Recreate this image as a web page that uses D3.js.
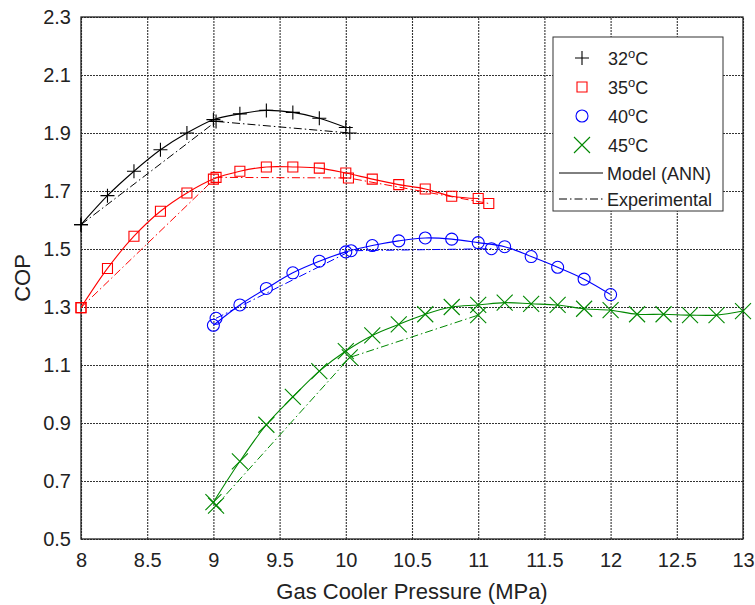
<!DOCTYPE html>
<html>
<head>
<meta charset="utf-8">
<script src="https://cdn.jsdelivr.net/npm/d3@7"></script>
<style>
  body { margin: 0; background: #fff; }
  text { font-family: "Liberation Sans", Arial, sans-serif; fill: #222; }
</style>
</head>
<body>
<div id="chart"></div>
<script>
const width = 755;
const height = 605;
const margin = { top: 17, right: 12, bottom: 66, left: 81 };

// tick values and labels
const xTicks = [8, 8.5, 9, 9.5, 10, 10.5, 11, 11.5, 12, 12.5, 13];
const xTickLabels = ["8", "8.5", "9", "9.5", "10", "10.5", "11", "11.5", "12", "12.5", "13"];
const yTicks = [0.5, 0.7, 0.9, 1.1, 1.3, 1.5, 1.7, 1.9, 2.1, 2.3];
const yTickLabels = ["0.5", "0.7", "0.9", "1.1", "1.3", "1.5", "1.7", "1.9", "2.1", "2.3"];

// model (ANN) curves
const p32 = [8.0, 8.2, 8.4, 8.6, 8.8, 9.0, 9.2, 9.4, 9.6, 9.8, 10.0];
const cop32 = [1.584, 1.684, 1.768, 1.842, 1.900, 1.946, 1.966, 1.978, 1.971, 1.951, 1.919];
const p35 = [8.0, 8.2, 8.4, 8.6, 8.8, 9.0, 9.2, 9.4, 9.6, 9.8, 10.0, 10.2, 10.4, 10.6, 10.8, 11.0];
const cop35 = [1.298, 1.433, 1.544, 1.630, 1.693, 1.741, 1.768, 1.783, 1.783, 1.779, 1.762, 1.741, 1.722, 1.707, 1.682, 1.674];
const p40 = [9.0, 9.2, 9.4, 9.6, 9.8, 10.0, 10.2, 10.4, 10.6, 10.8, 11.0, 11.2, 11.4, 11.6, 11.8, 12.0];
const cop40 = [1.237, 1.307, 1.364, 1.418, 1.458, 1.490, 1.512, 1.528, 1.538, 1.534, 1.522, 1.508, 1.474, 1.437, 1.396, 1.343];
const p45 = [9.0, 9.2, 9.4, 9.6, 9.8, 10.0, 10.2, 10.4, 10.6, 10.8, 11.0, 11.2, 11.4, 11.6, 11.8, 12.0, 12.2, 12.4, 12.6, 12.8, 13.0];
const cop45 = [0.627, 0.768, 0.894, 0.990, 1.079, 1.148, 1.202, 1.240, 1.275, 1.300, 1.307, 1.315, 1.311, 1.307, 1.294, 1.289, 1.275, 1.275, 1.272, 1.272, 1.286];

// experimental points
const p32Exp = [8.0, 9.02, 10.03];
const cop32Exp = [1.584, 1.940, 1.900];
const p35Exp = [8.0, 9.02, 10.02, 11.08];
const cop35Exp = [1.298, 1.747, 1.745, 1.657];
const p40Exp = [9.02, 10.04, 11.1];
const cop40Exp = [1.261, 1.494, 1.501];
const p45Exp = [9.02, 10.03, 11.0];
const cop45Exp = [0.615, 1.126, 1.272];

const seriesNames = ["32", "35", "40", "45"];
const seriesColors = ["#000000", "#ff0000", "#0000ff", "#008800"];
const seriesMarkers = ["plus", "square", "circle", "x"];

const zip = (xs, ys) => xs.map((p, i) => ({ p: p, cop: ys[i] }));
const series = [
  { model: zip(p32, cop32), exp: zip(p32Exp, cop32Exp) },
  { model: zip(p35, cop35), exp: zip(p35Exp, cop35Exp) },
  { model: zip(p40, cop40), exp: zip(p40Exp, cop40Exp) },
  { model: zip(p45, cop45), exp: zip(p45Exp, cop45Exp) }
];

const svg = d3.select("#chart").append("svg")
  .attr("width", width)
  .attr("height", height);
svg.append("rect").attr("width", width).attr("height", height).attr("fill", "#fff");

const innerW = width - margin.left - margin.right;
const innerH = height - margin.top - margin.bottom;
const x = d3.scaleLinear().domain([8, 13]).range([0, innerW]);
const y = d3.scaleLinear().domain([0.5, 2.3]).range([innerH, 0]);

const g = svg.append("g").attr("transform", `translate(${margin.left},${margin.top})`);

// grid
g.append("g").attr("class", "grid")
  .attr("transform", `translate(0,${innerH})`)
  .call(d3.axisBottom(x).tickValues(xTicks).tickSize(-innerH).tickFormat(""))
  .call(s => s.select(".domain").remove())
  .selectAll("line").attr("stroke", "#333").attr("stroke-width", 1.1).attr("stroke-dasharray", "2,1");
g.append("g").attr("class", "grid")
  .call(d3.axisLeft(y).tickValues(yTicks).tickSize(-innerW).tickFormat(""))
  .call(s => s.select(".domain").remove())
  .selectAll("line").attr("stroke", "#333").attr("stroke-width", 1.1).attr("stroke-dasharray", "2,1");

// axes labels
const xAxis = g.append("g")
  .attr("transform", `translate(0,${innerH})`)
  .call(d3.axisBottom(x).tickValues(xTicks).tickSize(0).tickPadding(14).tickFormat((d, i) => xTickLabels[i]));
xAxis.select(".domain").remove();
xAxis.selectAll("text").attr("font-size", 20).attr("fill", "#222");

const yAxis = g.append("g")
  .call(d3.axisLeft(y).tickValues(yTicks).tickSize(0).tickPadding(10).tickFormat((d, i) => yTickLabels[i]));
yAxis.select(".domain").remove();
yAxis.selectAll("text").attr("font-size", 20).attr("fill", "#222");

// frame
g.append("rect")
  .attr("width", innerW).attr("height", innerH)
  .attr("fill", "none").attr("stroke", "#222").attr("stroke-width", 1.3);

// marker drawing
function drawMarker(sel, type, color, cx, cy) {
  const m = sel.append("path")
    .attr("fill", "none").attr("stroke", color).attr("stroke-width", 1.1);
  if (type === "plus") {
    m.attr("d", `M${cx - 7},${cy}H${cx + 7}M${cx},${cy - 7}V${cy + 7}`);
  } else if (type === "square") {
    m.attr("d", `M${cx - 5},${cy - 5}h10v10h-10Z`);
  } else if (type === "circle") {
    m.attr("d", d3.arc()({ innerRadius: 0, outerRadius: 6, startAngle: 0, endAngle: 2 * Math.PI }))
      .attr("transform", `translate(${cx},${cy})`);
  } else {
    m.attr("d", `M${cx - 8},${cy - 8}L${cx + 8},${cy + 8}M${cx - 8},${cy + 8}L${cx + 8},${cy - 8}`);
  }
}

const modelLine = d3.line().x(d => x(d.p)).y(d => y(d.cop)).curve(d3.curveCatmullRom);
const expLine = d3.line().x(d => x(d.p)).y(d => y(d.cop));

series.forEach((s, i) => {
  const color = seriesColors[i];
  g.append("path").datum(s.exp)
    .attr("d", expLine)
    .attr("fill", "none").attr("stroke", color).attr("stroke-width", 1)
    .attr("stroke-dasharray", "8,3,1.5,3");
  g.append("path").datum(s.model)
    .attr("d", modelLine)
    .attr("fill", "none").attr("stroke", color).attr("stroke-width", 1.1);
  const mg = g.append("g");
  s.model.concat(s.exp).forEach(d => drawMarker(mg, seriesMarkers[i], color, x(d.p), y(d.cop)));
});

// legend
const lg = svg.append("g").attr("transform", "translate(553,37)");
lg.append("rect").attr("width", 170).attr("height", 174)
  .attr("fill", "#fff").attr("stroke", "#333").attr("stroke-width", 1);
seriesNames.forEach((name, i) => {
  const ly = 21 + i * 29;
  drawMarker(lg, seriesMarkers[i], seriesColors[i], 29, ly);
  const t = lg.append("text").attr("x", 55).attr("y", ly + 7).attr("font-size", 18).attr("fill", "#000");
  t.append("tspan").text(name);
  t.append("tspan").attr("dy", -7).attr("font-size", 13).text("o");
  t.append("tspan").attr("dy", 7).text("C");
});
const lineItems = [["Model (ANN)", null], ["Experimental", "8,3,1.5,3"]];
lineItems.forEach((item, i) => {
  const ly = 136 + i * 26;
  lg.append("line").attr("x1", 6).attr("x2", 50).attr("y1", ly).attr("y2", ly)
    .attr("stroke", "#000").attr("stroke-width", 1)
    .attr("stroke-dasharray", item[1]);
  lg.append("text").attr("x", 54).attr("y", ly + 7).attr("font-size", 18).attr("fill", "#000").text(item[0]);
});

// axis titles
svg.append("text")
  .attr("x", margin.left + innerW / 2).attr("y", 599)
  .attr("text-anchor", "middle").attr("font-size", 22)
  .text("Gas Cooler Pressure (MPa)");
svg.append("text")
  .attr("transform", `translate(30,${margin.top + innerH / 2}) rotate(-90)`)
  .attr("text-anchor", "middle").attr("font-size", 22)
  .text("COP");
</script>
</body>
</html>
